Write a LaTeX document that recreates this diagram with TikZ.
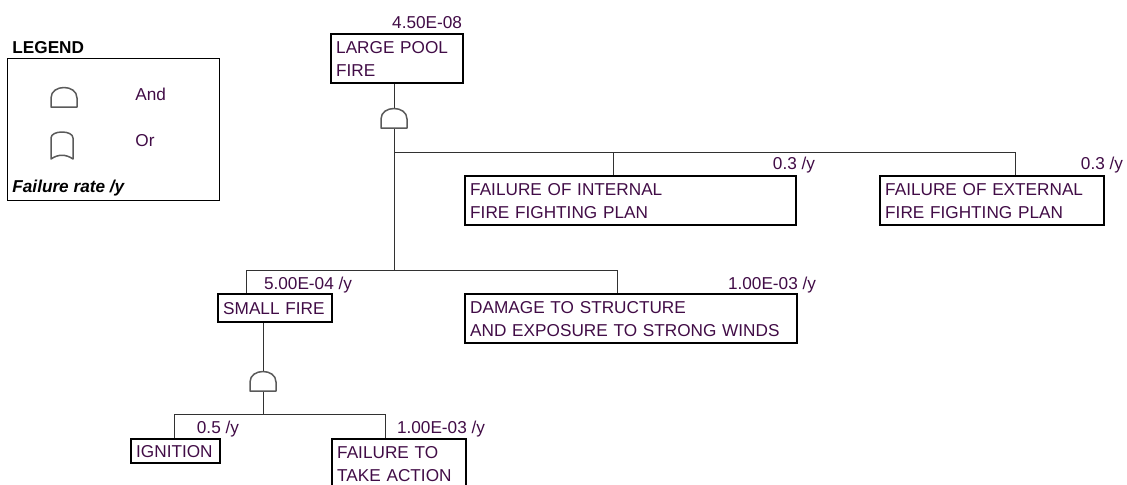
\documentclass[tikz,border=0pt]{standalone}
\usepackage{fontspec}
\setmainfont{Liberation Sans}
\definecolor{textpurple}{RGB}{65,12,70}
\definecolor{wiregray}{RGB}{50,50,50}
\definecolor{gategray}{RGB}{90,90,90}
\tikzset{
  event/.style={draw=black, line width=1.2pt, rectangle, anchor=north west,
    inner xsep=2.5pt, inner ysep=1pt, align=left, text=textpurple,
    font=\fontsize{8.6}{11.5}\selectfont},
  rate/.style={anchor=base east, inner sep=0pt, text=textpurple,
    font=\fontsize{8.6}{11.5}\selectfont},
  legendtext/.style={anchor=west, inner sep=0pt, font=\fontsize{8.6}{11.5}\selectfont},
  wire/.style={draw=wiregray, line width=0.5pt},
  gatepath/.style={draw=gategray, fill=white, line width=0.75pt, line join=round},
  andgate/.pic={\draw[gatepath] (-13,0) -- (-13,-9) .. controls (-13,-23) and (13,-23) .. (13,-9) -- (13,0) -- cycle;},
  orgate/.pic={\draw[gatepath] (-11,0) -- (-11,-21) .. controls (-11,-29) and (11,-29) .. (11,-21) -- (11,0) .. controls (4,-5) and (-4,-5) .. (-11,0) -- cycle;},
}

\begin{document}
\begin{tikzpicture}[x=0.5pt, y=-0.5pt]
  \useasboundingbox (0,0) rectangle (1127,484);

  % legend
  \node[anchor=base west, inner sep=0pt, font=\fontsize{8.6}{10}\selectfont\bfseries] (legendtitle) at (12,53) {LEGEND};
  \node[draw, line width=0.6pt, anchor=north west, minimum width=106pt, minimum height=71pt, inner sep=0pt] (legend) at (7,58) {};
  \pic at (64,107) {andgate};
  \pic at (62,159) {orgate};
  \node[legendtext, text=textpurple] (andtext) at (135,94) {And};
  \node[legendtext, text=textpurple] (ortext) at (135,141) {Or};
  \node[legendtext, font=\fontsize{8.6}{11.5}\selectfont\bfseries\itshape] (ratetext) at (12,188) {Failure rate /y};

  % events
  \node[event, text width=61pt, minimum height=24.5pt] (top) at (330,33) {LARGE POOL\\FIRE};
  \node[event, text width=160.5pt, minimum height=24.5pt] (internal) at (464,175) {FAILURE OF INTERNAL\\FIRE FIGHTING PLAN};
  \node[event, text width=107pt, minimum height=24.5pt] (external) at (879,175) {FAILURE OF EXTERNAL\\FIRE FIGHTING PLAN};
  \node[event, text width=52pt, minimum height=14pt] (small) at (217,293) {SMALL FIRE};
  \node[event, text width=161pt, minimum height=24.5pt] (damage) at (464,293) {DAMAGE TO STRUCTURE\\AND EXPOSURE TO STRONG WINDS};
  \node[event, text width=39.5pt, minimum height=12pt] (ignition) at (130,438) {IGNITION};
  \node[event, text width=62pt, minimum height=24.5pt] (action) at (331,438) {FAILURE TO\\TAKE ACTION};

  % rates
  \node[rate] (r-top) at ([xshift=-1pt,yshift=2.5pt]top.north east) {4.50E-08};
  \node[rate] (r-int) at ([xshift=9pt,yshift=3pt]internal.north east) {0.3 /y};
  \node[rate] (r-ext) at ([xshift=9pt,yshift=3pt]external.north east) {0.3 /y};
  \node[rate] (r-small) at ([xshift=9.5pt,yshift=2pt]small.north east) {5.00E-04 /y};
  \node[rate] (r-damage) at ([xshift=9pt,yshift=2pt]damage.north east) {1.00E-03 /y};
  \node[rate] (r-ign) at ([xshift=9pt,yshift=2.5pt]ignition.north east) {0.5 /y};
  \node[rate] (r-act) at ([xshift=9pt,yshift=2.5pt]action.north east) {1.00E-03 /y};

  % junctions
  \coordinate (g1top) at (394,108);
  \coordinate (g1bot) at (394,128);
  \coordinate (j1) at (394,152);
  \coordinate (j2) at (394,270);
  \coordinate (bint) at (613,152);
  \coordinate (bext) at (1015,152);
  \coordinate (bsmall) at (246,270);
  \coordinate (bdamage) at (617,270);
  \coordinate (g2top) at (263,371);
  \coordinate (g2bot) at (263,391);
  \coordinate (j3) at (263,414);
  \coordinate (bign) at (174,414);
  \coordinate (bact) at (385,414);

  \draw[wire] (top.south -| g1top) -- (g1top);
  \draw[wire] (g1bot) -- (j2);
  \draw[wire] (j1) -- (bext) -- (bext |- external.north);
  \draw[wire] (bint) -- (bint |- internal.north);
  \draw[wire] (bsmall |- small.north) -- (bsmall) -- (bdamage) -- (bdamage |- damage.north);
  \draw[wire] (small.south -| g2top) -- (g2top);
  \draw[wire] (g2bot) -- (j3);
  \draw[wire] (bign |- ignition.north) -- (bign) -- (bact) -- (bact |- action.north);

  % gates
  \pic at (g1bot) {andgate};
  \pic at (g2bot) {andgate};
\end{tikzpicture}
\end{document}
